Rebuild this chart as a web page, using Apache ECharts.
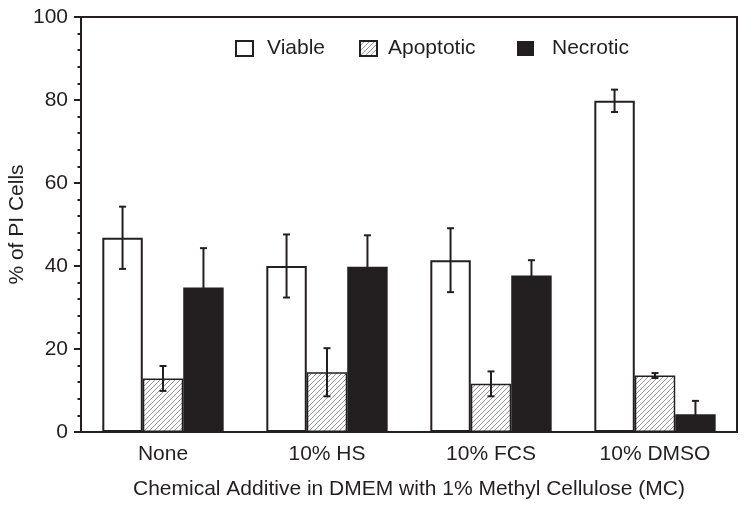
<!DOCTYPE html>
<html>
<head>
<meta charset="utf-8">
<script src="https://cdn.jsdelivr.net/npm/echarts@6/dist/echarts.min.js"></script>
<style>html,body{margin:0;padding:0;background:#fff;}#c{width:749px;height:507px;}</style>
</head>
<body>
<div id="c"></div>
<script>
const categories = ['None', '10% HS', '10% FCS', '10% DMSO'];
const viable = [46.8, 40.0, 41.4, 79.8];
const viableErr = [7.5, 7.6, 7.7, 2.7];
const apoptotic = [12.9, 14.4, 11.6, 13.6];
const apoptoticErr = [3.0, 5.8, 3.0, 0.6];
const necrotic = [34.8, 39.8, 37.7, 4.3];
const necroticErr = [9.5, 7.6, 3.7, 3.2];
const yTicks = [0, 20, 40, 60, 80, 100];

const INK = '#231f20';
const FONT = '"Liberation Sans", Arial, sans-serif';
const FS = 21;

// hatch pattern
const pc = document.createElement('canvas');
pc.width = 5; pc.height = 5;
const pctx = pc.getContext('2d');
pctx.fillStyle = '#fff';
pctx.fillRect(0, 0, 5, 5);
pctx.strokeStyle = '#8a8a8a';
pctx.lineWidth = 0.9;
pctx.beginPath();
pctx.moveTo(-1, 6); pctx.lineTo(6, -1);
pctx.moveTo(-1, 1); pctx.lineTo(1, -1);
pctx.moveTo(4, 6); pctx.lineTo(6, 4);
pctx.stroke();
const hatch = { image: pc, repeat: 'repeat' };

const CAT_GAP = 0.26;
function errSeries(vals, errs, idx) {
  return {
    type: 'custom',
    z: 10,
    silent: true,
    data: vals.map((v, i) => [i, v, errs[i]]),
    renderItem: function (params, api) {
      const i = api.value(0), v = api.value(1), e = api.value(2);
      const band = api.size([1, 0])[0];
      const bw = band * (1 - CAT_GAP) / 3;
      const c = api.coord([i, v]);
      const x = c[0] + (idx - 1) * bw;
      const yt = api.coord([i, v + e])[1];
      const yb = api.coord([i, v - e])[1];
      const cap = 3.5;
      const st = { stroke: INK, lineWidth: 2 };
      return {
        type: 'group',
        children: [
          { type: 'line', shape: { x1: x, y1: yt, x2: x, y2: yb }, style: st },
          { type: 'line', shape: { x1: x - cap, y1: yt, x2: x + cap, y2: yt }, style: st },
          { type: 'line', shape: { x1: x - cap, y1: yb, x2: x + cap, y2: yb }, style: st }
        ]
      };
    }
  };
}

const legendBase = {
  top: 38, padding: 0, itemWidth: 17, itemHeight: 15, icon: 'rect',
  textStyle: { fontFamily: FONT, fontSize: FS, color: INK },
  selectedMode: false
};

const chart = echarts.init(document.getElementById('c'), null, { renderer: 'canvas' });
chart.setOption({
  animation: false,
  backgroundColor: '#fff',
  grid: { left: 81, right: 12, top: 17, bottom: 75, containLabel: false, outerBoundsMode: 'none',
    show: true, borderColor: INK, borderWidth: 2, backgroundColor: 'transparent' },
  legend: [
    Object.assign({}, legendBase, { left: 235, data: ['Viable'], textStyle: Object.assign({}, legendBase.textStyle, { padding: [0, 0, 0, 9] }) }),
    Object.assign({}, legendBase, { left: 359, data: ['Apoptotic'], textStyle: Object.assign({}, legendBase.textStyle, { padding: [0, 0, 0, 6] }) }),
    Object.assign({}, legendBase, { left: 517, data: ['Necrotic'], textStyle: Object.assign({}, legendBase.textStyle, { padding: [0, 0, 0, 13] }) })
  ],
  xAxis: {
    type: 'category',
    data: categories,
    name: 'Chemical Additive in DMEM with 1% Methyl Cellulose (MC)',
    nameLocation: 'middle',
    nameGap: 47,
    nameMoveOverlap: false,
    nameTextStyle: { fontFamily: FONT, fontSize: FS, color: INK },
    axisLine: { lineStyle: { color: INK, width: 2 } },
    axisTick: { alignWithLabel: true, length: 7, lineStyle: { color: INK, width: 2 } },
    axisLabel: { fontFamily: FONT, fontSize: FS, color: INK, margin: 12 },
    splitLine: { show: false }
  },
  yAxis: {
    type: 'value',
    min: 0, max: 100, interval: 20,
    name: '% of PI Cells',
    nameLocation: 'middle',
    nameGap: 53,
    nameMoveOverlap: false,
    nameTextStyle: { fontFamily: FONT, fontSize: FS, color: INK },
    axisLine: { show: true, lineStyle: { color: INK, width: 2 } },
    axisTick: { show: true, length: 7, lineStyle: { color: INK, width: 2 } },
    minorTick: { show: true, splitNumber: 5, length: 3.5, lineStyle: { color: INK, width: 2 } },
    axisLabel: { fontFamily: FONT, fontSize: FS, color: INK, margin: 13,
      formatter: v => yTicks.includes(v) ? String(v) : '' },
    splitLine: { show: false }
  },
  series: [
    { name: 'Viable', type: 'bar', data: viable, barGap: '0%', barCategoryGap: (CAT_GAP * 100) + '%',
      itemStyle: { color: '#fff', borderColor: INK, borderWidth: 2 } },
    { name: 'Apoptotic', type: 'bar', data: apoptotic,
      itemStyle: { color: hatch, borderColor: INK, borderWidth: 1.5 } },
    { name: 'Necrotic', type: 'bar', data: necrotic,
      itemStyle: { color: INK, borderColor: INK, borderWidth: 0 } },
    errSeries(viable, viableErr, 0),
    errSeries(apoptotic, apoptoticErr, 1),
    errSeries(necrotic, necroticErr, 2)
  ]
});
</script>
</body>
</html>
